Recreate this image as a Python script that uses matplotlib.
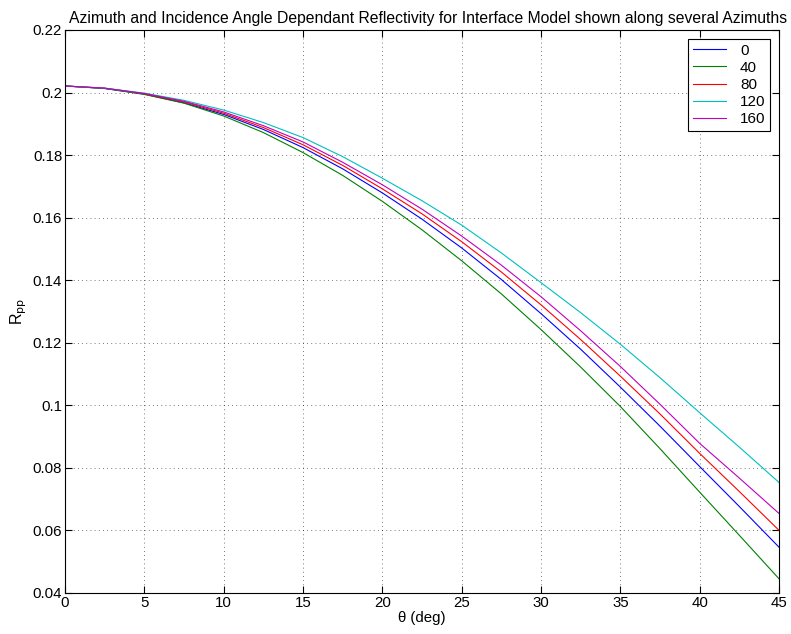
import matplotlib
matplotlib.use("Agg")
import matplotlib.pyplot as plt

plt.rcParams['font.family'] = ['Liberation Sans', 'DejaVu Sans']

# incidence angle (deg)
theta = [0, 2.5, 5, 7.5, 10, 12.5, 15, 17.5, 20, 22.5,
         25, 27.5, 30, 32.5, 35, 37.5, 40, 42.5, 45]

# Rpp, one list per azimuth
rpp_0 = [0.2021, 0.2013, 0.1995, 0.1967, 0.1930, 0.1882, 0.1824, 0.1756, 0.1679, 0.1595,
         0.1503, 0.1402, 0.1293, 0.1179, 0.1058, 0.0933, 0.0804, 0.0676, 0.0546]
rpp_40 = [0.2021, 0.2013, 0.1994, 0.1966, 0.1925, 0.1872, 0.1808, 0.1735, 0.1652, 0.1561,
          0.1462, 0.1356, 0.1242, 0.1122, 0.0996, 0.0861, 0.0722, 0.0584, 0.0445]
rpp_80 = [0.2021, 0.2014, 0.1996, 0.1970, 0.1934, 0.1888, 0.1833, 0.1767, 0.1692, 0.1612,
          0.1523, 0.1426, 0.1321, 0.1210, 0.1093, 0.0972, 0.0846, 0.0724, 0.0600]
rpp_120 = [0.2021, 0.2014, 0.1998, 0.1975, 0.1944, 0.1904, 0.1856, 0.1795, 0.1726, 0.1654,
           0.1576, 0.1487, 0.1392, 0.1296, 0.1195, 0.1088, 0.0976, 0.0866, 0.0753]
rpp_160 = [0.2021, 0.2014, 0.1997, 0.1972, 0.1938, 0.1894, 0.1842, 0.1777, 0.1705, 0.1627,
           0.1541, 0.1448, 0.1347, 0.1238, 0.1124, 0.1003, 0.0878, 0.0767, 0.0654]

azimuths = ['0', '40', '80', '120', '160']
series = [rpp_0, rpp_40, rpp_80, rpp_120, rpp_160]
colors = ['#0000ff', '#008000', '#ff0000', '#00bfbf', '#bf00bf']

fig = plt.figure(figsize=(7.91, 6.34), dpi=100)
ax = fig.add_axes([0.0822, 0.0647, 0.9028, 0.888])

for vals, lab, col in zip(series, azimuths, colors):
    ax.plot(theta, vals, color=col, lw=0.8, label=lab)

ax.set_xlim(0, 45)
ax.set_ylim(0.04, 0.22)
ax.set_xticks(range(0, 46, 5))
ax.set_yticks([0.04, 0.06, 0.08, 0.10, 0.12, 0.14, 0.16, 0.18, 0.20, 0.22])
ax.set_yticklabels(['0.04', '0.06', '0.08', '0.1', '0.12', '0.14', '0.16', '0.18', '0.2', '0.22'])
ax.tick_params(direction='in', top=True, right=True, length=5, width=0.8, labelsize=10.8, pad=2)
ax.grid(True, linestyle=(0, (1, 4)), color='black', lw=0.6, alpha=0.7)
for s in ax.spines.values():
    s.set_linewidth(0.8)

ax.set_title('Azimuth and Incidence Angle Dependant Reflectivity for Interface Model shown along several Azimuths',
             fontsize=11.3, pad=5, x=0.509)
ax.set_xlabel('θ (deg)', fontsize=10.8, labelpad=1)
ax.set_ylabel(r'R$_{\rm pp}$', fontsize=11.5, labelpad=3)

leg = ax.legend(loc='upper right', fontsize=11, fancybox=False, framealpha=1,
                edgecolor='black', handlelength=2.2, borderpad=0.3, labelspacing=0.2,
                handletextpad=0.9, borderaxespad=0.6)
leg.get_frame().set_linewidth(0.8)

fig.savefig('out.png', dpi=100)
